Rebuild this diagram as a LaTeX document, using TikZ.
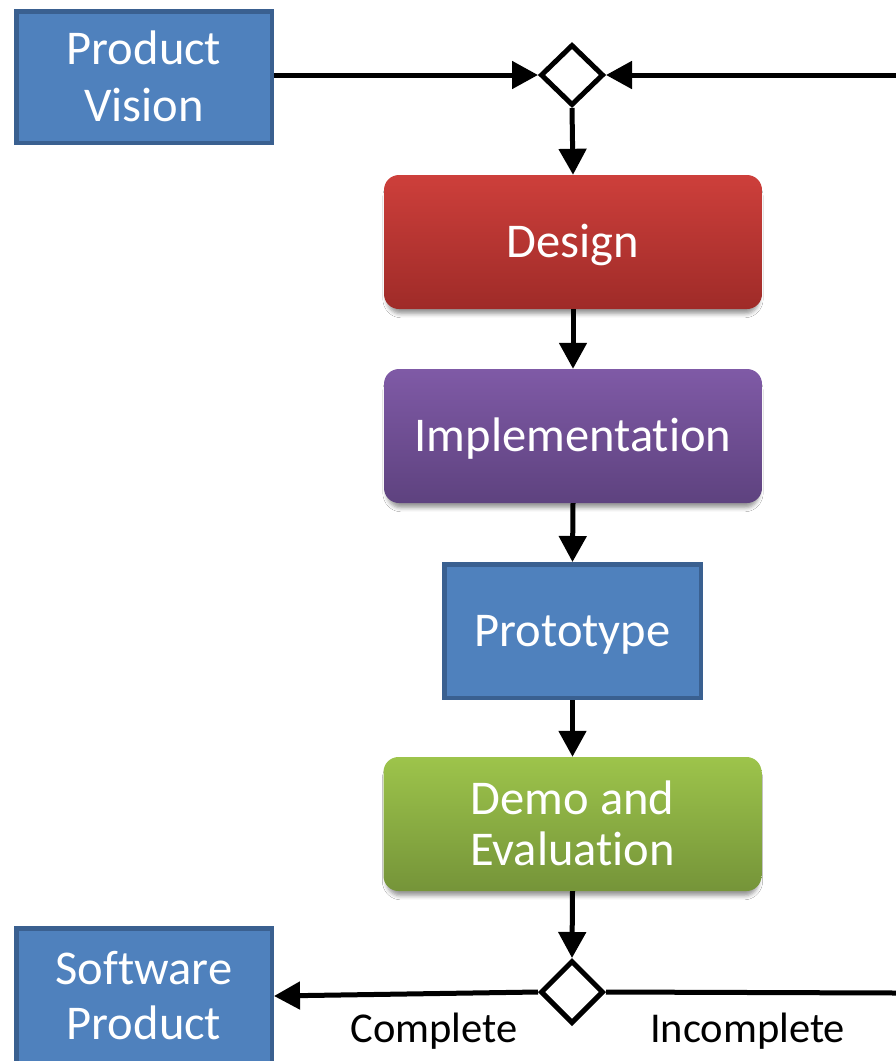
\documentclass[tikz,border=0pt]{standalone}
\usepackage{fontspec}
\setmainfont{Carlito}[Ligatures=NoCommon]
\usetikzlibrary{shapes.geometric,arrows.meta,shadows.blur}
\definecolor{bluefill}{HTML}{4F81BD}
\definecolor{blueline}{HTML}{3A6090}
\definecolor{redtop}{HTML}{CD3F3B}
\definecolor{redbot}{HTML}{9F2B28}
\definecolor{purtop}{HTML}{7F5AA6}
\definecolor{purbot}{HTML}{5E427F}
\definecolor{grntop}{HTML}{9DC44B}
\definecolor{grnbot}{HTML}{759439}
\begin{document}
\begin{tikzpicture}[x=1pt,y=-1pt,
  boxtext/.style={text=white, font=\fontsize{48.5pt}{57pt}\selectfont, align=center, inner sep=0pt},
  bluebox/.style={boxtext, draw=blueline, line width=4.5pt, fill=bluefill},
  roundbox/.style={boxtext, rounded corners=15pt, minimum width=378pt, minimum height=134pt,
    blur shadow={shadow xshift=0pt, shadow yshift=-6pt, shadow blur radius=4pt, shadow scale=0.985, shadow opacity=40}},
  onel/.style={text height=31pt, text depth=0pt},
  gate/.style={diamond, draw=black, fill=white, line width=5pt, minimum width=63pt, minimum height=61pt, inner sep=0pt},
  conn/.style={line width=5pt, -{Triangle[length=26pt,width=27pt]}},
  link/.style={line width=5pt},
  lbl/.style={font=\fontsize{42.5pt}{50pt}\selectfont, inner sep=0pt, anchor=base}
]
\useasboundingbox[fill=white] (0,0) rectangle (896,1061);

\node[bluebox, minimum width=255.5pt, minimum height=131.5pt, text height=88pt, text depth=0pt] (pv) at (144,77) {Product\\Vision};
\node[gate] (d1) at (572,75) {};
\node[roundbox, onel, top color=redtop, bottom color=redbot] (design) at (573,242) {Design};
\node[roundbox, onel, top color=purtop, bottom color=purbot] (impl) at (573,436) {Implementation};
\node[bluebox, onel, minimum width=256.5pt, minimum height=133.5pt] (proto) at (572.5,631) {Prototype};
\node[roundbox, top color=grntop, bottom color=grnbot, font=\fontsize{48.5pt}{51pt}\selectfont, text height=82pt, text depth=0pt] (demo) at (572.5,824) {Demo and\\Evaluation};
\node[gate, minimum height=63pt] (d2) at (572,992) {};
\node[bluebox, minimum width=255.5pt, minimum height=135.5pt, text height=86pt, text depth=0pt, font=\fontsize{48.5pt}{55pt}\selectfont] (sp) at (144,996) {Software\\Product};

\coordinate (rin) at (896,75);
\coordinate (rout) at (896,993);

\draw[conn] (pv.east |- d1.west) -- (d1.west);
\draw[conn] (rin) -- (d1.east);
\draw[conn] (d1.south) -- (design.north);
\draw[conn] (design.south) -- (impl.north);
\draw[conn] (impl.south) -- (proto.north);
\draw[conn] (proto.south) -- (demo.north);
\draw[conn] (demo.south) -- (d2.north);
\draw[conn] (d2.west) -- (sp.east);
\draw[link] (d2.east) -- (rout);

\node[lbl] (lc) at (434,1042) {Complete};
\node[lbl] (li) at (747.5,1042) {Incomplete};
\end{tikzpicture}
\end{document}
